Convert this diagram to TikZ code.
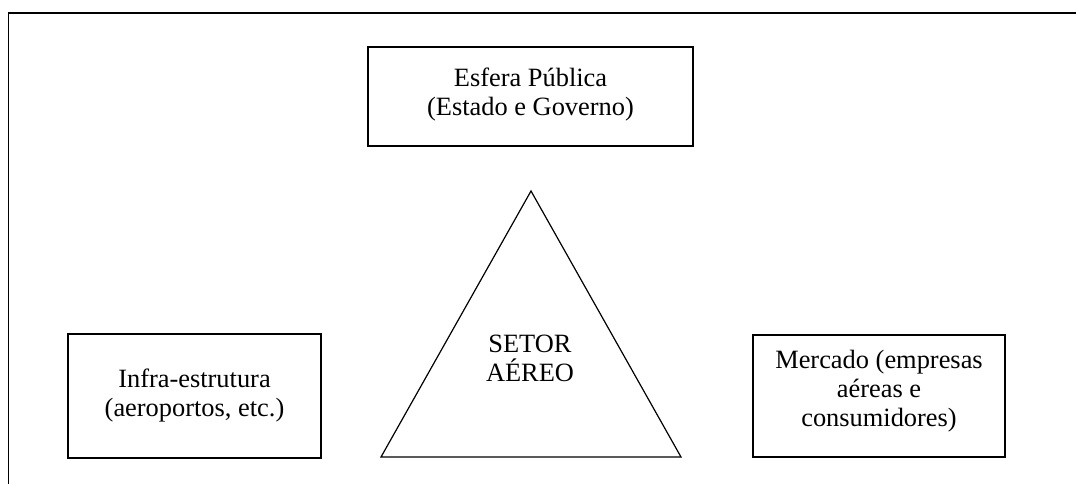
\documentclass[tikz,border=0pt]{standalone}
\usepackage{fontspec}
\setmainfont{Liberation Serif}
\begin{document}
\begin{tikzpicture}[x=1pt,y=-1pt,
  txt/.style={align=center, inner sep=0pt, font=\fontsize{26.4}{29}\selectfont},
  box/.style={draw, line width=1.6pt, inner sep=0pt}]
\useasboundingbox (0,0) rectangle (1076,483);
\coordinate (fbl) at (8.5,484);
\coordinate (ftl) at (8.5,13);
\coordinate (ftr) at (1077,13);
\draw[line width=1.6pt] (fbl) -- (ftl) -- (ftr);
% top box
\node[box, minimum width=325pt, minimum height=99pt] (pub) at (530.5,96.5) {};
\node[txt] (pubt) at (530.5,95) {Esfera Pública\\(Estado e Governo)};
% left box
\node[box, minimum width=253pt, minimum height=124pt] (inf) at (194.5,396) {};
\node[txt] (inft) at (194.5,396) {Infra-estrutura\\(aeroportos, etc.)};
% right box
\node[box, minimum width=252pt, minimum height=122pt] (mer) at (879,396) {};
\node[txt] (mert) at (879,391) {Mercado (empresas\\aéreas e\\consumidores)};
% triangle
\coordinate (apex) at (531,191);
\coordinate (bl) at (381,457);
\coordinate (br) at (681,457);
\draw[line width=1.2pt, line join=miter] (apex) -- (bl) -- (br) -- cycle;
\node[txt] (setor) at (530,358) {SETOR\\AÉREO};
\end{tikzpicture}
\end{document}
